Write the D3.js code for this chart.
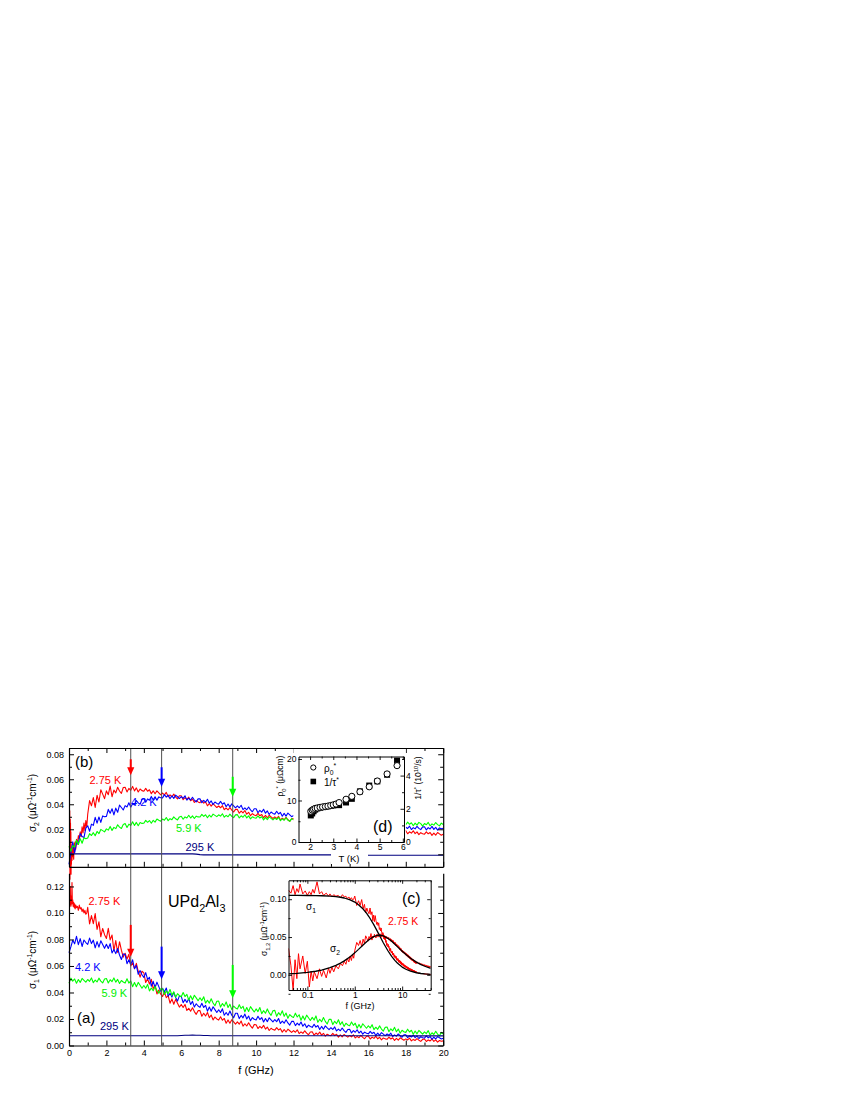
<!DOCTYPE html>
<html><head><meta charset="utf-8">
<script src="https://cdn.jsdelivr.net/npm/d3@7"></script>
<style>body{margin:0;background:#fff;} svg{display:block;}</style>
</head><body><svg id="c" width="850" height="1100"></svg>
<script>
// ---------------- DATA ----------------
// frequency grids (GHz)
const freqFine = d3.range(0, 201).map(i => +(i * 0.1).toFixed(1));      // 0 .. 20
const freqCoarse = d3.range(0, 101).map(i => +(i * 0.2).toFixed(1));    // 0 .. 20 (295 K)
const freqLoB = freqFine.slice(0, 121);                                  // 0 .. 12
const freqHiB = freqFine.slice(180);                                     // 18 .. 20
const freqLow275 = [0.04,0.045,0.05,0.055,0.06,0.065,0.07,0.08,0.09,0.1,0.11,0.12,0.13,0.14,0.16,0.18,0.2,0.22,0.25,0.28,0.3,0.33,0.36,0.4,0.45,0.5,0.55,0.6,0.65,0.7,0.75,0.8,0.85,0.9,0.95];
const freqHigh275 = [21,22,23,24,25,26,27,28,29,30,31,32,33,34,35,36,37,38,39,40];
const freq275 = freqLow275.concat(freqFine.slice(10), freqHigh275);

// sigma1 at 2.75 K (µΩ^-1 cm^-1) on freq275
const sigma1_275K = [
 0.112,0.108,0.118,0.106,0.114,0.109,0.120,0.107,0.111,0.105,
 0.110,0.106,0.113,0.108,0.123,0.107,0.110,0.105,0.108,0.104,
 0.107,0.103,0.106,0.104,0.105,0.102,0.106,0.103,0.104,0.101,
 0.103,0.100,0.102,0.099,0.100,
 .1042,.0917,.0980,.0919,.0995,.0876,.0933,.0820,.0883,.0836,
 .0808,.0884,.0797,.0834,.0715,.0791,.0703,.0783,.0719,.0667,
 .0696,.0652,.0688,.0600,.0624,.0580,.0620,.0560,.0516,.0560,
 .0548,.0475,.0503,.0464,.0499,.0429,.0455,.0389,.0418,.0388,
 .0370,.0403,.0361,.0376,.0319,.0352,.0311,.0348,.0319,.0290,
 .0309,.0287,.0310,.0264,.0280,.0259,.0285,.0256,.0235,.0263,
 .0263,.0221,.0243,.0223,.0249,.0210,.0230,.0193,.0215,.0200,
 .0192,.0217,.0191,.0204,.0168,.0193,.0168,.0195,.0178,.0161,
 .0178,.0161,.0185,.0146,.0164,.0147,.0172,.0148,.0131,.0159,
 .0157,.0128,.0145,.0131,.0152,.0124,.0139,.0113,.0130,.0120,
 .0116,.0135,.0117,.0127,.0101,.0121,.0102,.0123,.0111,.0099,
 .0112,.0100,.0118,.0090,.0103,.0092,.0111,.0093,.0081,.0102,
 .0103,.0078,.0094,.0083,.0101,.0078,.0092,.0070,.0085,.0077,
 .0074,.0091,.0075,.0085,.0063,.0080,.0065,.0083,.0073,.0063,
 .0075,.0065,.0081,.0057,.0069,.0059,.0076,.0061,.0051,.0070,
 .0071,.0049,.0063,.0054,.0070,.0050,.0062,.0043,.0057,.0050,
 .0047,.0063,.0049,.0058,.0038,.0054,.0040,.0058,.0049,.0040,
 .0050,.0042,.0056,.0035,.0046,.0038,.0052,.0040,.0031,.0047,
 .0049,.0030,.0042,.0034,.0049,.0031,.0043,.0026,.0038,.0032,
 .0035,
 .0032,.0018,.0028,.0014,.0024,.0011,.0021,.0009,.0019,.0007,
 .0017,.0005,.0015,.0004,.0014,.0003,.0012,.0002,.0011,.0001];
// sigma2 at 2.75 K on freq275
const sigma2_275K = [
 0.035,0.012,-0.020,0.020,-0.005,0.028,0.008,0.025,0.002,0.018,
 -0.016,0.005,-0.008,0.004,-0.005,0.008,-0.002,0.006,-0.004,0.009,
 0.002,0.010,0.004,0.012,0.008,0.015,0.012,0.018,0.014,0.022,
 0.017,0.025,0.019,0.027,0.022,
 .0320,.0429,.0388,.0454,.0375,.0472,.0418,.0516,.0481,.0445,
 .0507,.0477,.0546,.0460,.0513,.0491,.0536,.0506,.0487,.0534,
 .0536,.0499,.0527,.0512,.0543,.0507,.0531,.0498,.0522,.0509,
 .0504,.0527,.0504,.0516,.0485,.0507,.0484,.0507,.0492,.0476,
 .0490,.0475,.0495,.0460,.0475,.0459,.0481,.0458,.0443,.0468,
 .0468,.0437,.0453,.0438,.0457,.0428,.0442,.0415,.0430,.0419,
 .0412,.0430,.0409,.0418,.0388,.0406,.0385,.0405,.0390,.0374,
 .0386,.0372,.0389,.0357,.0370,.0355,.0374,.0353,.0338,.0359,
 .0359,.0329,.0345,.0331,.0350,.0321,.0336,.0309,.0325,.0314,
 .0309,.0327,.0308,.0318,.0292,.0311,.0292,.0312,.0299,.0286,
 .0299,.0287,.0304,.0275,.0288,.0276,.0295,.0276,.0264,.0284,
 .0285,.0258,.0274,.0262,.0281,.0256,.0270,.0246,.0262,.0253,
 .0249,.0268,.0249,.0259,.0233,.0253,.0234,.0255,.0242,.0230,
 .0243,.0231,.0249,.0220,.0233,.0221,.0240,.0222,.0210,.0231,
 .0231,.0206,.0221,.0209,.0227,.0203,.0217,.0194,.0209,.0201,
 .0196,.0214,.0198,.0208,.0184,.0202,.0185,.0205,.0194,.0183,
 .0196,.0185,.0202,.0175,.0188,.0177,.0195,.0179,.0168,.0188,
 .0189,.0164,.0180,.0169,.0188,.0165,.0179,.0157,.0173,.0165,
 .0161,.0180,.0164,.0174,.0151,.0170,.0153,.0174,.0163,.0152,
 .0160,
 .0168,.0145,.016,.0138,.0152,.013,.0145,.0124,.0138,.0118,
 .0132,.0112,.0127,.0107,.0122,.0103,.0118,.0099,.0114,.0096];

// sigma1 at 4.2 K on freqFine
const sigma1_42K = [
 .0700,.0744,.0794,.0767,.0824,.0761,.0806,.0747,.0796,.0777,
 .0763,.0810,.0769,.0795,.0737,.0784,.0742,.0790,.0762,.0733,
 .0764,.0732,.0769,.0698,.0725,.0693,.0732,.0683,.0649,.0691,
 .0688,.0617,.0647,.0610,.0647,.0579,.0604,.0537,.0565,.0534,
 .0513,.0550,.0499,.0515,.0447,.0484,.0436,.0478,.0444,.0409,
 .0432,.0403,.0434,.0372,.0394,.0365,.0401,.0362,.0335,.0374,
 .0370,.0323,.0348,.0325,.0355,.0310,.0333,.0290,.0315,.0298,
 .0288,.0319,.0287,.0303,.0259,.0290,.0259,.0292,.0271,.0249,
 .0270,.0249,.0277,.0228,.0249,.0228,.0260,.0229,.0209,.0243,
 .0243,.0203,.0227,.0209,.0237,.0200,.0222,.0187,.0211,.0198,
 .0193,.0220,.0196,.0211,.0177,.0204,.0180,.0209,.0193,.0178,
 .0196,.0180,.0204,.0166,.0184,.0168,.0194,.0170,.0154,.0182,
 .0182,.0150,.0169,.0154,.0177,.0146,.0164,.0135,.0154,.0143,
 .0137,.0160,.0139,.0151,.0121,.0144,.0123,.0148,.0133,.0119,
 .0134,.0121,.0140,.0110,.0124,.0111,.0132,.0112,.0099,.0121,
 .0122,.0095,.0112,.0100,.0119,.0094,.0109,.0085,.0101,.0092,
 .0088,.0106,.0090,.0100,.0076,.0094,.0077,.0097,.0086,.0075,
 .0087,.0077,.0093,.0068,.0080,.0070,.0087,.0072,.0062,.0080,
 .0081,.0059,.0073,.0064,.0079,.0059,.0072,.0053,.0066,.0059,
 .0056,.0072,.0058,.0067,.0047,.0063,.0049,.0067,.0058,.0049,
 .0055];
// sigma1 at 5.9 K on freqFine
const sigma1_59K = [
 .0470,.0508,.0486,.0502,.0470,.0498,.0476,.0506,.0492,.0478,
 .0498,.0484,.0510,.0474,.0494,.0480,.0508,.0486,.0472,.0502,
 .0506,.0472,.0496,.0482,.0510,.0478,.0499,.0468,.0490,.0479,
 .0471,.0503,.0471,.0488,.0444,.0475,.0444,.0476,.0455,.0432,
 .0453,.0432,.0461,.0412,.0434,.0413,.0445,.0414,.0394,.0428,
 .0430,.0385,.0412,.0391,.0423,.0380,.0405,.0364,.0391,.0376,
 .0368,.0400,.0369,.0386,.0343,.0375,.0345,.0379,.0359,.0338,
 .0360,.0339,.0368,.0320,.0341,.0320,.0352,.0321,.0300,.0334,
 .0335,.0290,.0317,.0297,.0329,.0287,.0312,.0271,.0298,.0283,
 .0276,.0308,.0279,.0296,.0254,.0287,.0257,.0293,.0273,.0253,
 .0276,.0256,.0287,.0240,.0263,.0243,.0276,.0246,.0227,.0262,
 .0265,.0220,.0248,.0229,.0262,.0220,.0245,.0205,.0233,.0219,
 .0212,.0244,.0215,.0232,.0190,.0223,.0193,.0229,.0209,.0189,
 .0212,.0192,.0223,.0175,.0198,.0179,.0211,.0182,.0162,.0197,
 .0198,.0158,.0183,.0165,.0194,.0157,.0179,.0144,.0168,.0155,
 .0149,.0178,.0152,.0168,.0130,.0159,.0133,.0164,.0147,.0130,
 .0149,.0133,.0157,.0120,.0138,.0122,.0148,.0124,.0109,.0137,
 .0139,.0104,.0126,.0111,.0137,.0104,.0124,.0093,.0115,.0104,
 .0099,.0123,.0102,.0115,.0085,.0109,.0088,.0114,.0100,.0086,
 .0103,.0090,.0112,.0079,.0096,.0083,.0107,.0086,.0073,.0099,
 .0087];
// sigma1 at 295 K on freqCoarse
const sigma1_295K = [
 .0074,.0074,.0074,.0074,.0074,.0074,.0074,.0074,.0074,.0074,
 .0074,.0074,.0074,.0074,.0074,.0074,.0074,.0074,.0074,.0074,
 .0074,.0074,.0074,.0074,.0074,.0074,.0074,.0074,.0074,.0074,
 .0076,.0077,.0077,.0078,.0077,.0077,.0076,.0075,.0074,.0074,
 .0074,.0074,.0074,.0074,.0074,.0074,.0074,.0074,.0074,.0074,
 .0074,.0074,.0074,.0074,.0074,.0074,.0074,.0074,.0074,.0074,
 .0074,.0074,.0074,.0074,.0074,.0074,.0074,.0074,.0074,.0074,
 .0074,.0074,.0074,.0074,.0074,.0074,.0074,.0074,.0074,.0074,
 .0074,.0074,.0074,.0074,.0074,.0074,.0074,.0074,.0074,.0074,
 .0073,.0073,.0073,.0073,.0073,.0073,.0073,.0073,.0073,.0073,
 .0073];
// sigma2 at 4.2 K: 0..12 GHz and 18..20 GHz (middle part hidden behind inset d)
const sigma2_42K_lo = [
 -.0080,.0012,.0100,.0012,.0092,.0085,.0166,.0142,.0134,.0209,
 .0228,.0184,.0241,.0231,.0295,.0249,.0298,.0255,.0307,.0300,
 .0303,.0359,.0328,.0364,.0315,.0369,.0336,.0393,.0374,.0354,
 .0389,.0378,.0412,.0377,.0404,.0394,.0430,.0411,.0400,.0438,
 .0446,.0416,.0443,.0432,.0463,.0435,.0460,.0433,.0459,.0452,
 .0451,.0477,.0457,.0473,.0444,.0468,.0447,.0473,.0460,.0446,
 .0462,.0447,.0468,.0433,.0449,.0434,.0456,.0434,.0419,.0443,
 .0444,.0412,.0431,.0417,.0440,.0409,.0427,.0398,.0418,.0407,
 .0401,.0423,.0400,.0412,.0380,.0402,.0379,.0403,.0388,.0372,
 .0387,.0372,.0392,.0357,.0372,.0356,.0378,.0355,.0340,.0364,
 .0364,.0332,.0351,.0337,.0360,.0329,.0347,.0318,.0338,.0327,
 .0321,.0344,.0322,.0335,.0304,.0327,.0305,.0330,.0316,.0301,
 .0310];
const sigma2_42K_hi = [
 .0216,.0206,.0225,.0198,.0213,.0203,.0224,.0207,.0197,.0219,
 .0220,.0195,.0213,.0202,.0223,.0199,.0216,.0193,.0211,.0204,
 .0208];
// sigma2 at 5.9 K
const sigma2_59K_lo = [
 .0064,.0023,.0069,.0058,.0113,.0078,.0125,.0088,.0132,.0124,
 .0130,.0165,.0150,.0173,.0148,.0183,.0165,.0199,.0189,.0179,
 .0203,.0193,.0223,.0191,.0215,.0205,.0236,.0217,.0206,.0239,
 .0246,.0215,.0241,.0230,.0260,.0231,.0255,.0228,.0254,.0247,
 .0248,.0271,.0256,.0270,.0248,.0272,.0257,.0282,.0273,.0265,
 .0282,.0273,.0294,.0269,.0285,.0277,.0299,.0284,.0275,.0299,
 .0304,.0280,.0299,.0290,.0312,.0290,.0307,.0286,.0305,.0299,
 .0298,.0319,.0303,.0316,.0292,.0314,.0298,.0321,.0311,.0301,
 .0316,.0305,.0324,.0297,.0311,.0300,.0321,.0304,.0293,.0315,
 .0317,.0291,.0308,.0296,.0316,.0291,.0307,.0283,.0300,.0292,
 .0288,.0307,.0290,.0300,.0275,.0295,.0277,.0299,.0287,.0275,
 .0289,.0278,.0296,.0269,.0283,.0272,.0292,.0274,.0263,.0285,
 .0275];
const sigma2_59K_hi = [
 .0236,.0257,.0240,.0252,.0228,.0249,.0233,.0255,.0245,.0225,
 .0246,.0236,.0255,.0228,.0243,.0233,.0254,.0237,.0227,.0249,
 .0238];
// sigma2 at 295 K on freqCoarse
const sigma2_295K = [
 .0003,.0003,.0003,.0003,.0003,.0003,.0003,.0003,.0003,.0003,
 .0003,.0003,.0003,.0003,.0003,.0003,.0003,.0003,.0003,.0003,
 .0003,.0003,.0003,.0003,.0003,.0003,.0003,.0003,.0003,.0003,
 .0003,.0003,.0003,.0003,.0001,-.0003,-.0005,-.0005,-.0005,-.0005,
 -.0005,-.0005,-.0005,-.0005,-.0005,-.0005,-.0005,-.0005,-.0005,-.0005,
 -.0005,-.0005,-.0005,-.0005,-.0005,-.0005,-.0005,-.0005,-.0005,-.0005,
 -.0005,-.0005,-.0005,-.0005,-.0005,-.0005,-.0005,-.0005,-.0005,-.0005,
 -.0005,-.0005,-.0005,-.0005,-.0005,-.0005,-.0005,-.0005,-.0005,-.0005,
 -.0008,-.0008,-.0008,-.0008,-.0008,-.0008,-.0008,-.0008,-.0008,-.0008,
 -.0008,-.0008,-.0008,-.0008,-.0008,-.0008,-.0008,-.0008,-.0008,-.0008,
 -.0008];

// characteristic frequencies (arrows, GHz) and arrow spans (tail, tip)
const markerFreq = [3.3, 4.95, 8.75];
const arrowB = [[0.076, 0.0632], [0.0696, 0.054], [0.062, 0.046]];
const arrowA = [[0.091, 0.067], [0.0746, 0.050], [0.0608, 0.0356]];

// inset (c): fit curves for 2.75 K
const fitFreq = [0.04,0.06,0.1,0.15,0.2,0.3,0.4,0.5,0.6,0.8,1,1.2,1.5,1.8,2,2.5,3,3.5,4,5,6,7,8,10,12,15,20,25,30,40];
const fitSigma1 = [.1050,.1050,.1049,.1048,.1046,.1041,.1035,.1026,.1016,.0992,.0962,.0927,.0870,.0809,.0768,.0667,.0575,.0494,.0425,.0319,.0244,.0191,.0153,.0103,.0074,.0049,.0028,.0018,.0013,.0007];
const fitSigma2 = [.0013,.0019,.0032,.0048,.0063,.0095,.0125,.0156,.0185,.0240,.0291,.0337,.0396,.0441,.0465,.0505,.0523,.0524,.0516,.0483,.0443,.0405,.0370,.0313,.0268,.0220,.0169,.0136,.0114,.0086];

// inset (d)
const tempK = [2.03,2.09,2.15,2.22,2.31,2.43,2.54,2.66,2.77,2.89,3.0,3.12,3.25,3.55,3.8,4.15,4.55,4.9,5.32,5.75];
const rho0 = [7.4,7.7,7.9,8.1,8.2,8.35,8.45,8.55,8.65,8.8,8.95,9.15,9.5,10.3,11.0,12.1,13.3,14.7,16.4,18.4];
const invTau = [1.60,1.72,1.85,1.95,2.02,2.07,2.10,2.13,2.15,2.18,2.20,2.24,2.22,2.38,2.6,3.05,3.4,3.65,4.05,4.9];

// tick values
const xMajor = [0,2,4,6,8,10,12,14,16,18,20];
const xMinor = [1,3,5,7,9,11,13,15,17,19];
const yBMajor = [0,0.02,0.04,0.06,0.08];
const yBMinor = [0.01,0.03,0.05,0.07];
const yAMajor = [0,0.02,0.04,0.06,0.08,0.10,0.12];
const yAMinor = [0.01,0.03,0.05,0.07,0.09,0.11];

const COL = {r:'#ff0000', b:'#0000ff', g:'#00ff00', n:'#000080'};
const TXT = {r:'#ff0000', b:'#0000ff', g:'#00ee00', n:'#000080'};

// ---------------- DRAW ----------------
const FONT = '"Liberation Sans", Arial, Helvetica, sans-serif';
const svg = d3.select('#c');
svg.append('rect').attr('width',850).attr('height',1100).attr('fill','#fff');

const xMain = d3.scaleLinear().domain([0,20]).range([69,443.2]);
const yB = d3.scaleLinear().domain([-0.01,0.085]).range([866.8,748]);
const yA = d3.scaleLinear().domain([0,0.13]).range([1045.5,873.2]);

function rich(parent, x, y, parts, size, attrs) {
  const t = parent.append('text').attr('x', x).attr('y', y).attr('font-size', size).style('font-family', FONT);
  Object.entries(attrs || {}).forEach(([k,v]) => t.attr(k, v));
  let cur = 0;
  parts.forEach(p => {
    const [s, kind] = Array.isArray(p) ? p : [p, null];
    const shift = kind === 'sub' ? size*0.3 : kind === 'sup' ? -size*0.4 : 0;
    t.append('tspan').attr('dy', (shift - cur).toFixed(2)).attr('font-size', kind ? size*0.68 : size).text(s);
    cur = shift;
  });
  return t;
}

function axis(parent, type, scale, tx, ty, majors, minors, fmt, o) {
  o = o || {};
  const make = {left: d3.axisLeft, right: d3.axisRight, top: d3.axisTop, bottom: d3.axisBottom}[type];
  const g = parent.append('g').attr('transform', `translate(${tx},${ty})`);
  g.call(make(scale).tickValues(majors).tickSizeInner(-(o.major||5)).tickSizeOuter(0)
      .tickPadding(o.pad||3).tickFormat(fmt || (() => '')));
  g.select('.domain').attr('stroke','#000').attr('stroke-width', o.sw||1.2);
  g.selectAll('.tick line').attr('stroke','#000').attr('stroke-width', o.tw||1);
  g.selectAll('text').attr('font-size', o.fs||9).style('font-family', FONT).attr('fill','#000');
  if (minors && minors.length) {
    const gm = parent.append('g').attr('transform', `translate(${tx},${ty})`);
    gm.call(make(scale).tickValues(minors).tickSizeInner(-(o.minor||3)).tickSizeOuter(0).tickFormat(() => ''));
    gm.select('.domain').remove();
    gm.selectAll('.tick line').attr('stroke','#000').attr('stroke-width', o.tw||1);
  }
  return g;
}

function series(parent, fr, vals, xs, ys, color, w, maxF) {
  const pts = fr.map((f,i) => [f, vals[i]]).filter(d => maxF == null || d[0] <= maxF);
  parent.append('path')
    .attr('d', d3.line().defined(d => d[1] != null).x(d => xs(d[0])).y(d => ys(d[1]))(pts))
    .attr('fill','none').attr('stroke', color).attr('stroke-width', w).attr('stroke-linejoin','round');
}

const main = svg.append('g');
const LW = 1.1;
// panel (b): sigma2
series(main, freq275, sigma2_275K, xMain, yB, COL.r, LW, 20);
series(main, freqLoB, sigma2_42K_lo, xMain, yB, COL.b, LW);
series(main, freqHiB, sigma2_42K_hi, xMain, yB, COL.b, LW);
series(main, freqLoB, sigma2_59K_lo, xMain, yB, COL.g, LW);
series(main, freqHiB, sigma2_59K_hi, xMain, yB, COL.g, LW);
series(main, freqCoarse, sigma2_295K, xMain, yB, COL.n, 1.1);
// panel (a): sigma1
series(main, freq275, sigma1_275K, xMain, yA, COL.r, LW, 20);
series(main, freqFine, sigma1_42K, xMain, yA, COL.b, LW);
series(main, freqFine, sigma1_59K, xMain, yA, COL.g, LW);
series(main, freqCoarse, sigma1_295K, xMain, yA, COL.n, 1.1);

// vertical marker lines
main.selectAll(null).data(markerFreq).join('line')
  .attr('x1', d => xMain(d)).attr('x2', d => xMain(d))
  .attr('y1', yB.range()[1]).attr('y2', yA.range()[0])
  .attr('stroke','#505050').attr('stroke-width',1);

// arrows
const arrowCols = [COL.r, COL.b, COL.g];
function arrow(g, x, y1, y2, col) {
  g.append('line').attr('x1',x).attr('x2',x).attr('y1',y1).attr('y2',y2-6).attr('stroke',col).attr('stroke-width',2);
  g.append('path').attr('d', `M${x-3.6},${y2-8} L${x+3.6},${y2-8} L${x},${y2} Z`).attr('fill',col);
}
markerFreq.forEach((f,i) => {
  arrow(main, xMain(f), yB(arrowB[i][0]), yB(arrowB[i][1]), arrowCols[i]);
  arrow(main, xMain(f), yA(arrowA[i][0]), yA(arrowA[i][1]), arrowCols[i]);
});

// axes panel (b)
const fmt2 = d3.format('.2f');
axis(main, 'left', yB, 69, 0, yBMajor, yBMinor, fmt2, {pad:5});
axis(main, 'right', yB, 443.2, 0, yBMajor, yBMinor, null);
axis(main, 'top', xMain, 0, 748, xMajor, xMinor, null);
axis(main, 'bottom', xMain, 0, 866.8, xMajor, xMinor, null);
// axes panel (a) (no separate top line: it shares the boundary with panel b)
axis(main, 'left', yA, 69, 0, yAMajor, yAMinor, fmt2, {pad:5});
axis(main, 'right', yA, 443.2, 0, yAMajor, yAMinor, null);
axis(main, 'bottom', xMain, 0, 1045.5, xMajor, xMinor, d3.format('d'), {pad:4});

// main labels
const lab = svg.append('g');
lab.append('text').attr('x',75).attr('y',767).attr('font-size',15).style('font-family',FONT).text('(b)');
lab.append('text').attr('x',77).attr('y',1023).attr('font-size',15).style('font-family',FONT).text('(a)');
const tl = (x,y,t,c) => lab.append('text').attr('x',x).attr('y',y).attr('font-size',11).attr('fill',c).style('font-family',FONT).text(t);
tl(89.5,784,'2.75 K',TXT.r); tl(131,805.5,'4.2 K',TXT.b); tl(176,832,'5.9 K',TXT.g); tl(185.5,851,'295 K',TXT.n);
tl(88.5,905,'2.75 K',TXT.r); tl(75,971,'4.2 K',TXT.b); tl(101.5,996.5,'5.9 K',TXT.g); tl(100,1030,'295 K',TXT.n);
rich(lab, 168, 907, ['UPd',['2','sub'],'Al',['3','sub']], 16);
rich(lab, 36, 803, ['σ',['2','sub'],' (μΩ',['-1','sup'],'cm',['-1','sup'],')'], 10,
  {'text-anchor':'middle', transform:'rotate(-90,36,803)'});
rich(lab, 36, 960, ['σ',['1','sub'],' (μΩ',['-1','sup'],'cm',['-1','sup'],')'], 10,
  {'text-anchor':'middle', transform:'rotate(-90,36,960)'});
lab.append('text').attr('x',256).attr('y',1074).attr('font-size',11).attr('text-anchor','middle').style('font-family',FONT).text('f (GHz)');

// ---------------- INSET (d) ----------------
const gd = svg.append('g');
gd.append('rect').attr('x', xMain(12)).attr('y', 749).attr('width', xMain(18)-xMain(12)).attr('height', 103).attr('fill','#fff');
const xT = d3.scaleLinear().domain([1.5,6.05]).range([298.5,404]);
const yRho = d3.scaleLinear().domain([0,20.6]).range([842,756.5]);
const yTau = d3.scaleLinear().domain([0,5.15]).range([842,756.5]);
const io = {major:3.5, minor:2, fs:8.5, sw:1, tw:0.9, pad:2};
axis(gd, 'bottom', xT, 0, 842, [2,3,4,5,6], [2.5,3.5,4.5,5.5], d3.format('d'), io);
axis(gd, 'top', xT, 0, 756.5, [2,3,4,5,6], [2.5,3.5,4.5,5.5], null, io);
axis(gd, 'left', yRho, 298.5, 0, [0,10,20], [5,15], d3.format('d'), io);
axis(gd, 'right', yTau, 404, 0, [0,2,4], [1,3,5], d3.format('d'), io);
gd.selectAll(null).data(tempK.map((t,i)=>[t,invTau[i]])).join('rect')
  .attr('x', d => xT(d[0])-3).attr('y', d => yTau(d[1])-3).attr('width',6).attr('height',6).attr('fill','#000');
gd.selectAll(null).data(tempK.map((t,i)=>[t,rho0[i]])).join('circle')
  .attr('cx', d => xT(d[0])).attr('cy', d => yRho(d[1])).attr('r',3.1)
  .attr('fill','#fff').attr('stroke','#000').attr('stroke-width',1);
gd.append('circle').attr('cx',313.3).attr('cy',767.5).attr('r',2.6).attr('fill','#fff').attr('stroke','#000').attr('stroke-width',1);
gd.append('rect').attr('x',310.5).attr('y',778.7).attr('width',5.6).attr('height',5.6).attr('fill','#000');
rich(gd, 324, 771.5, ['ρ',['0','sub'],['*','sup']], 10);
rich(gd, 324, 785.5, ['1/τ',['*','sup']], 10);
gd.append('text').attr('x',373).attr('y',832).attr('font-size',16).style('font-family',FONT).text('(d)');
rich(gd, 283, 776, ['ρ',['0','sub'],['*','sup'],' (μΩcm)'], 8.5, {'text-anchor':'middle', transform:'rotate(-90,283,776)'});
rich(gd, 421, 778, ['1/τ',['*','sup'],' (10',['10','sup'],'/s)'], 8.5, {'text-anchor':'middle', transform:'rotate(-90,421,778)'});
gd.append('rect').attr('x',331).attr('y',852).attr('width',37).attr('height',12).attr('fill','#fff');
gd.append('text').attr('x',349).attr('y',862).attr('font-size',9.5).attr('text-anchor','middle').style('font-family',FONT).text('T (K)');

// ---------------- INSET (c) ----------------
const gc = svg.append('g');
const xL = d3.scaleLog().domain([0.04,40]).range([288.5,430.7]);
const yC = d3.scaleLinear().domain([-0.02,0.125]).range([990,880.3]);
gc.append('rect').attr('x',288.5).attr('y',880.3).attr('width',142.2).attr('height',109.7).attr('fill','#fff');
svg.append('clipPath').attr('id','clipC').append('rect').attr('x',288.5).attr('y',880.3).attr('width',142.2).attr('height',109.7);
const gcd = gc.append('g').attr('clip-path','url(#clipC)');
series(gcd, freq275, sigma1_275K, xL, yC, COL.r, 1.0);
series(gcd, freq275, sigma2_275K, xL, yC, COL.r, 1.0);
series(gcd, fitFreq, fitSigma1, xL, yC, '#000', 1.3);
series(gcd, fitFreq, fitSigma2, xL, yC, '#000', 1.3);
const logMinor = [0.05,0.06,0.07,0.08,0.09,0.2,0.3,0.4,0.5,0.6,0.7,0.8,0.9,2,3,4,5,6,7,8,9,20,30,40];
const co = {major:3.5, minor:2, fs:8.5, sw:1, tw:0.9, pad:2};
axis(gc, 'bottom', xL, 0, 990, [0.1,1,10], logMinor, d => d < 1 ? String(d) : d3.format('d')(d), co);
axis(gc, 'top', xL, 0, 880.3, [0.1,1,10], logMinor, null, co);
axis(gc, 'left', yC, 288.5, 0, [0,0.05,0.10], [-0.025,0.025,0.075], fmt2, co);
axis(gc, 'right', yC, 430.7, 0, [0,0.05,0.10], [-0.025,0.025,0.075], null, co);
gc.append('text').attr('x',402).attr('y',903.5).attr('font-size',16).style('font-family',FONT).text('(c)');
gc.append('text').attr('x',388).attr('y',925).attr('font-size',10.5).attr('fill',TXT.r).style('font-family',FONT).text('2.75 K');
rich(gc, 306, 910, ['σ',['1','sub']], 10);
rich(gc, 330, 951.5, ['σ',['2','sub']], 10);
rich(gc, 267, 929, ['σ',['1,2','sub'],' (μΩ',['-1','sup'],'cm',['-1','sup'],')'], 8.5,
  {'text-anchor':'middle', transform:'rotate(-90,267,929)'});
gc.append('text').attr('x',360).attr('y',1009).attr('font-size',9).attr('text-anchor','middle').style('font-family',FONT).text('f (GHz)');
</script></body></html>
